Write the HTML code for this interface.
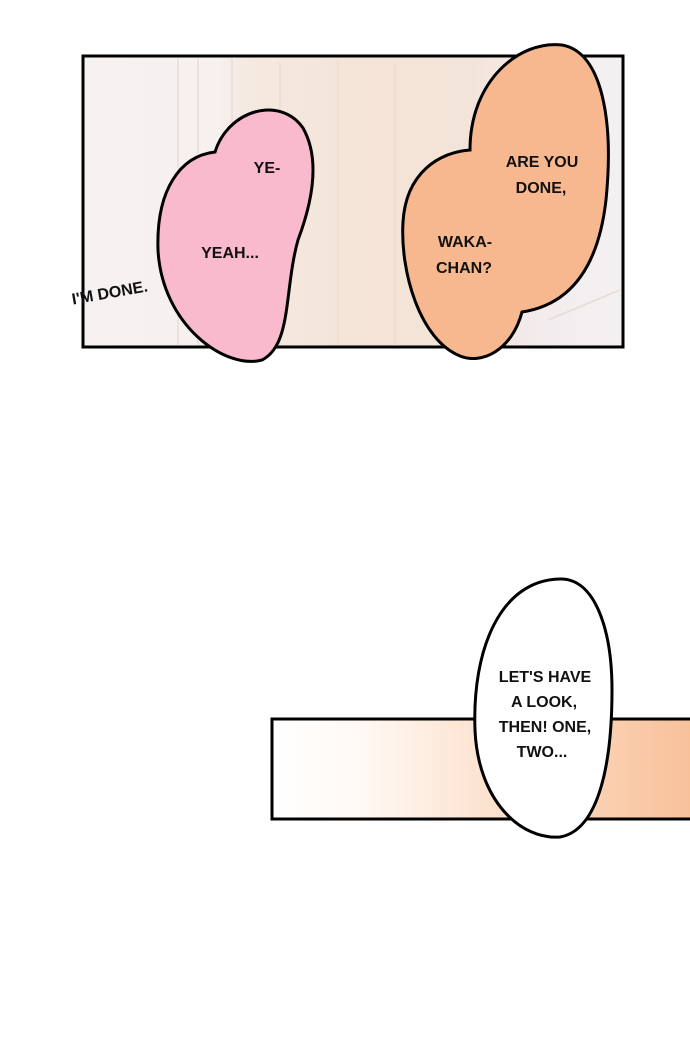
<!DOCTYPE html>
<html><head><style>
html,body{margin:0;padding:0;background:#fff;}
svg text{font-family:"Liberation Sans",sans-serif;font-weight:bold;font-size:16px;fill:#111;text-anchor:middle;}
</style></head><body>
<svg width="690" height="1043" viewBox="0 0 690 1043" xmlns="http://www.w3.org/2000/svg">
<defs>
<linearGradient id="bg" x1="0" x2="1" y1="0" y2="0">
<stop offset="0" stop-color="#f7f2f2"/><stop offset="0.25" stop-color="#f6f0ee"/>
<stop offset="0.3" stop-color="#f5e9e0"/><stop offset="0.55" stop-color="#f4e3d6"/>
<stop offset="0.72" stop-color="#f3e4da"/><stop offset="0.85" stop-color="#f2ecee"/><stop offset="1" stop-color="#f4f0f2"/>
</linearGradient>
<linearGradient id="b2" x1="0" x2="1" y1="0" y2="0">
<stop offset="0" stop-color="#ffffff"/><stop offset="0.2" stop-color="#fff9f4"/>
<stop offset="0.5" stop-color="#fce2cf"/><stop offset="1" stop-color="#f8bf97"/>
</linearGradient>
</defs>
<rect x="83" y="56" width="540" height="291" fill="url(#bg)" stroke="#000" stroke-width="3"/>
<g stroke="#e9dcd6" stroke-width="1.5">
<line x1="178" y1="58" x2="178" y2="345"/><line x1="198" y1="58" x2="198" y2="345"/>
<line x1="232" y1="58" x2="232" y2="345"/><line x1="280" y1="62" x2="280" y2="345"/>
<line x1="338" y1="62" x2="338" y2="345"/><line x1="395" y1="62" x2="395" y2="345"/>
<line x1="548" y1="320" x2="620" y2="290"/>
</g>
<path d="M215,152 C228,110 280,95 303,128 C320,158 313,200 298,240 C284,290 292,345 262,360 C225,370 162,325 158,250 C156,190 180,156 215,152 Z" fill="#f9bace" stroke="#000" stroke-width="3"/>
<path d="M470,150 C470,80 520,40 562,45 C602,52 614,120 606,200 C598,270 568,305 522,312 C512,350 482,365 460,356 C420,340 400,272 403,222 C406,172 440,152 470,150 Z" fill="#f7b88f" stroke="#000" stroke-width="3"/>
<text x="267" y="173">YE-</text>
<text x="230" y="258">YEAH...</text>
<text x="542" y="167">ARE YOU</text>
<text x="541" y="193">DONE,</text>
<text x="465" y="247">WAKA-</text>
<text x="464" y="273">CHAN?</text>
<text x="110" y="298" font-size="13" font-weight="normal" transform="rotate(-10 110 294)">I'M DONE.</text>
<rect x="272" y="719" width="430" height="100" fill="url(#b2)" stroke="#000" stroke-width="3"/>
<path d="M560,579 C595,578 612,630 612,690 C612,760 600,830 560,837 C520,840 478,800 475,730 C472,650 500,580 560,579 Z" fill="#fff" stroke="#000" stroke-width="3"/>
<text x="545" y="682" font-weight="normal">LET'S HAVE</text>
<text x="544" y="707" font-weight="normal">A LOOK,</text>
<text x="545" y="732" font-weight="normal">THEN! ONE,</text>
<text x="542" y="757" font-weight="normal">TWO...</text>
</svg>
</body></html>
